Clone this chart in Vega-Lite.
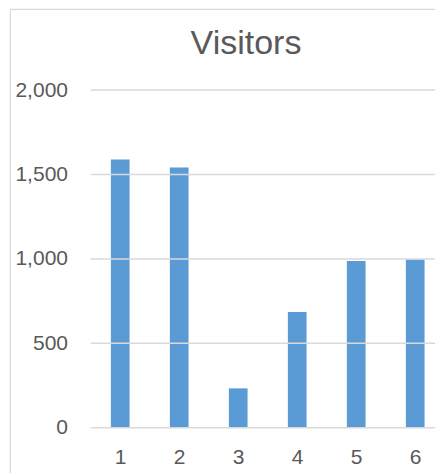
{
  "$schema": "https://vega.github.io/schema/vega-lite/v6.json",
  "autosize": "none",
  "padding": {"left": 10, "top": 9, "right": 0, "bottom": 0},
  "width": 472,
  "height": 480,
  "background": "white",
  "config": {
    "font": "Liberation Sans",
    "view": {"stroke": "#d9d9d9", "strokeWidth": 1.2}
  },
  "title": {
    "text": "Visitors",
    "fontSize": 34,
    "fontWeight": "normal",
    "color": "#595959",
    "anchor": "middle",
    "baseline": "alphabetic",
    "offset": -79
  },
  "datasets": {
    "visitors": [
      {"day": 1, "visitors": 1588},
      {"day": 2, "visitors": 1541},
      {"day": 3, "visitors": 233},
      {"day": 4, "visitors": 685},
      {"day": 5, "visitors": 988},
      {"day": 6, "visitors": 996}
    ],
    "grid": [
      {"v": 0}, {"v": 500}, {"v": 1000}, {"v": 1500}, {"v": 2000}
    ]
  },
  "layer": [
    {
      "data": {"name": "visitors"},
      "mark": {"type": "bar", "color": "#5b9bd5", "width": 18.7},
      "encoding": {
        "x": {
          "field": "day", "type": "quantitative",
          "scale": {"domain": [-0.868, 7.132], "nice": false, "zero": false, "padding": 0},
          "axis": {
            "values": [1, 2, 3, 4, 5, 6], "format": "d", "title": null,
            "grid": false, "domain": false, "ticks": false,
            "labelFontSize": 21, "labelColor": "#595959",
            "labelFlush": false, "labelOverlap": false,
            "offset": -61.3, "labelPadding": 19
          }
        },
        "y": {
          "field": "visitors", "type": "quantitative",
          "scale": {"domain": [-363, 2480], "nice": false, "zero": false, "padding": 0},
          "axis": {
            "values": [0, 500, 1000, 1500, 2000], "format": ",d", "title": null,
            "grid": false, "domain": false, "ticks": false,
            "labelFontSize": 21, "labelColor": "#595959",
            "labelAlign": "right", "labelBaseline": "middle",
            "labelPadding": -57.5, "labelFlush": false, "labelOverlap": false
          }
        },
        "y2": {"datum": 0}
      }
    },
    {
      "data": {"name": "grid"},
      "mark": {"type": "rule", "color": "#d9d9d9", "strokeWidth": 1.5},
      "encoding": {
        "x": {"datum": 0.5, "type": "quantitative"},
        "x2": {"datum": 6.5},
        "y": {"field": "v", "type": "quantitative"}
      }
    }
  ]
}
